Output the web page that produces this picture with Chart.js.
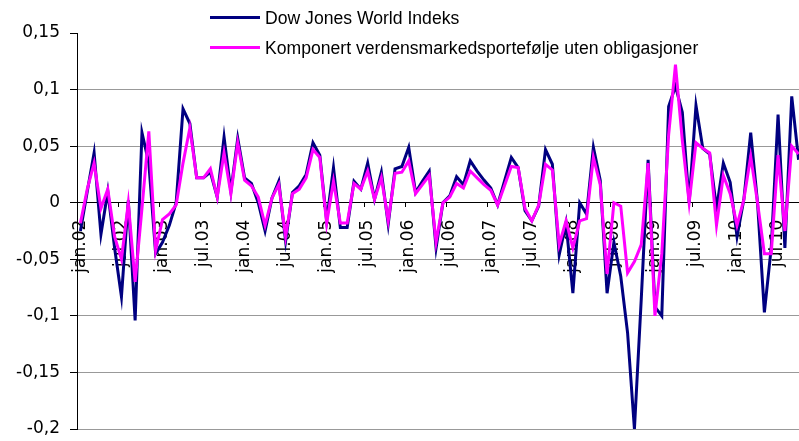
<!DOCTYPE html>
<html>
<head>
<meta charset="utf-8">
<script src="https://cdn.jsdelivr.net/npm/chart.js@4.4.1/dist/chart.umd.min.js"></script>
<style>
    html, body { margin: 0; padding: 0; background: #fff; overflow: hidden; }
    #wrap { position: relative; width: 802px; height: 441px; }
    .leg {
        position: absolute; left: 210px; height: 20px; line-height: 20px;
        padding-left: 55px; white-space: nowrap; color: #000;
        font-family: "Liberation Sans", Arial, sans-serif; font-size: 17.6px;
    }
    .swatch { position: absolute; left: 0; top: 8px; width: 50px; height: 3px; }
</style>
</head>
<body>
<div id="wrap">
    <canvas id="myChart"></canvas>
    <div class="leg" style="top:8px"><span class="swatch" style="background:#000080"></span>Dow Jones World Indeks</div>
    <div class="leg" style="top:38px"><span class="swatch" style="background:#ff00ff"></span>Komponert verdensmarkedsportefølje uten obligasjoner</div>
</div>
<script>
const monthNames = ['jan', 'feb', 'mar', 'apr', 'mai', 'jun', 'jul', 'aug', 'sep', 'okt', 'nov', 'des'];
const years = ['02', '03', '04', '05', '06', '07', '08', '09', '10'];
const monthCount = 106; // jan.02 - okt.10

const categories = [];
years.forEach(y => monthNames.forEach(m => categories.push(m + '.' + y)));
categories.length = monthCount;

// monthly returns
const dowJones = [
    -0.025, 0.01, 0.044, -0.028, 0.01, -0.04, -0.083, 0.002, -0.104, 0.062, 0.035, -0.045,
    -0.035, -0.02, 0.0, 0.083, 0.07, 0.022, 0.022, 0.027, 0.005, 0.058, 0.01, 0.057,
    0.022, 0.017, 0.0, -0.025, 0.004, 0.019, -0.034, 0.009, 0.015, 0.025, 0.053, 0.042,
    -0.016, 0.031, -0.022, -0.022, 0.019, 0.012, 0.035, 0.003, 0.027, -0.019, 0.03, 0.032,
    0.049, 0.009, 0.019, 0.028, -0.04, 0.0, 0.006, 0.023, 0.016, 0.037, 0.028, 0.02,
    0.013, -0.002, 0.019, 0.04, 0.031, -0.007, -0.016, -0.003, 0.047, 0.034, -0.046, -0.018,
    -0.08, 0.0, -0.01, 0.049, 0.02, -0.08, -0.035, -0.065, -0.115, -0.2, -0.085, 0.038,
    -0.092, -0.1, 0.085, 0.103, 0.08, 0.0, 0.086, 0.048, 0.043, -0.005, 0.035, 0.018,
    -0.03, 0.003, 0.062, 0.0, -0.097, -0.04, 0.078, -0.04, 0.094, 0.038
];
const komponert = [
    -0.018, 0.012, 0.035, -0.005, 0.012, -0.03, -0.05, 0.0, -0.07, -0.005, 0.063, -0.042,
    -0.015, -0.01, -0.002, 0.035, 0.066, 0.022, 0.022, 0.03, 0.005, 0.044, 0.008, 0.053,
    0.02, 0.015, 0.005, -0.02, 0.004, 0.016, -0.03, 0.008, 0.012, 0.022, 0.047, 0.04,
    -0.018, 0.019, -0.018, -0.018, 0.017, 0.012, 0.028, 0.003, 0.022, -0.016, 0.026, 0.027,
    0.037, 0.008, 0.016, 0.024, -0.035, 0.0, 0.005, 0.017, 0.013, 0.028, 0.022, 0.016,
    0.011, -0.002, 0.015, 0.032, 0.031, -0.005, -0.016, -0.002, 0.034, 0.029, -0.037, -0.016,
    -0.04, -0.016, -0.014, 0.04, 0.016, -0.063, 0.0, -0.003, -0.062, -0.052, -0.037, 0.035,
    -0.1, -0.045, 0.06, 0.122, 0.055, 0.0, 0.053, 0.048, 0.044, -0.02, 0.024, 0.008,
    -0.02, 0.003, 0.041, 0.0, -0.045, -0.045, 0.042, -0.025, 0.05, 0.043
];

const yMin = -0.2;
const yMax = 0.15;
const yStep = 0.05;

const tickFont = { family: 'DejaVu Sans', size: 17 };

new Chart(document.getElementById('myChart'), {
    type: 'line',
    data: {
        labels: categories,
        datasets: [
            {
                label: 'Dow Jones World Indeks',
                data: dowJones,
                borderColor: '#000080',
                borderWidth: 3,
                order: 1
            },
            {
                label: 'Komponert verdensmarkedsportefølje uten obligasjoner',
                data: komponert,
                borderColor: '#ff00ff',
                borderWidth: 3,
                order: 0
            }
        ]
    },
    options: {
        responsive: true,
        maintainAspectRatio: false,
        animation: false,
        layout: { padding: { top: 33, bottom: 12, left: 0, right: 0 } },
        elements: {
            point: { radius: 0 },
            line: { tension: 0, fill: false }
        },
        plugins: {
            legend: { display: false },
            tooltip: { enabled: false }
        },
        scales: {
            x: {
                type: 'category',
                position: { y: 0 },
                offset: true,
                afterFit: (scale) => {
                    scale.height = 0;
                    scale.paddingLeft = 0;
                    scale.paddingRight = 0;
                    scale.paddingTop = 0;
                    scale.paddingBottom = 0;
                },
                ticks: {
                    autoSkip: false,
                    minRotation: 90,
                    maxRotation: 90,
                    padding: 13,
                    color: '#000',
                    font: tickFont,
                    callback: function (value, index) {
                        return index % 6 === 0 ? this.getLabelForValue(value) : '';
                    }
                },
                grid: {
                    offset: true,
                    drawOnChartArea: false,
                    tickLength: 4,
                    color: (ctx) => ctx.index % 6 === 0 ? '#000' : 'rgba(0,0,0,0)'
                },
                border: { color: '#000', width: 1 }
            },
            y: {
                min: yMin,
                max: yMax,
                afterFit: (scale) => {
                    scale.width = 77;
                    scale.paddingTop = 0;
                    scale.paddingBottom = 0;
                },
                ticks: {
                    stepSize: yStep,
                    padding: 10,
                    color: '#000',
                    font: tickFont,
                    callback: (value) => String(Number(value.toFixed(2))).replace('.', ',')
                },
                grid: {
                    color: (ctx) => {
                        const v = ctx.tick ? ctx.tick.value : 0;
                        if (Math.abs(v - yMax) < 1e-9) return 'rgba(0,0,0,0)';
                        if (Math.abs(v) < 1e-9) return '#000';
                        return '#999';
                    },
                    tickColor: '#000',
                    tickLength: 7,
                    lineWidth: 1
                },
                border: { color: '#000', width: 1 }
            }
        }
    }
});
</script>
</body>
</html>
